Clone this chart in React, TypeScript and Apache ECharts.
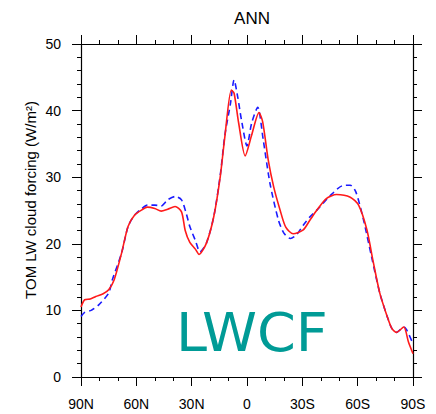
import React, { useEffect, useRef } from "react";
import * as echarts from "echarts";

// Latitudes in degrees (positive = N, negative = S)
const modelLat = [90, 88, 85, 82, 78, 75, 72, 68, 64.5, 61, 57, 54, 50, 46.5, 43, 39, 35.5, 33.5, 31, 28, 26, 22, 18, 14.5, 12, 8.5, 7, 4.5, 1, -2.5, -6.5, -8.5, -11.5, -14.5, -18, -21, -25, -30.5, -34, -38, -43, -48.5, -56, -60.5, -65, -68.5, -72, -76, -78.5, -81, -85, -87.5, -90];
const modelVal = [10.5, 11.6, 11.7, 12.1, 12.5, 13.1, 14.6, 18.6, 22.6, 24.3, 25.1, 25.5, 25.3, 24.9, 25.2, 25.6, 24.8, 22.0, 20.2, 19.2, 18.4, 20.1, 24.1, 30.1, 36.1, 43.1, 42.6, 38.1, 33.2, 36.3, 39.7, 38.3, 32.6, 28.5, 25.0, 22.5, 21.5, 22.1, 23.5, 25.1, 26.8, 27.4, 27.0, 25.8, 22.1, 17.2, 12.6, 9.1, 7.3, 6.7, 7.5, 5.3, 3.5];

const obsLat = [90, 88, 84.5, 80.5, 75, 73, 68, 64.5, 61, 57, 54, 50, 46.5, 43, 39, 35.5, 33, 31, 28, 25.5, 22, 18, 14.5, 12, 9, 7, 5, 3, 0, -2.5, -5.8, -8.8, -12.5, -17, -20, -23.5, -27, -30.5, -34, -38, -45, -51.5, -56, -59, -63, -67.5, -72, -76, -78.5, -81, -85, -86.5, -90];
const obsVal = [9.1, 9.7, 10.0, 10.8, 12.6, 14.6, 18.6, 22.6, 24.3, 25.3, 25.8, 25.8, 25.7, 26.6, 27.1, 26.6, 24.6, 22.6, 20.5, 18.8, 20.1, 24.1, 30.3, 36.3, 41.0, 44.6, 42.0, 38.6, 34.7, 38.1, 40.5, 35.6, 29.0, 23.6, 21.6, 20.8, 21.4, 22.8, 24.0, 25.1, 27.2, 28.7, 28.8, 27.8, 23.8, 18.1, 12.6, 9.1, 7.3, 6.7, 7.5, 7.1, 5.0];

const xTicks = [90, 60, 30, 0, -30, -60, -90];
const yTicks = [0, 10, 20, 30, 40, 50];

const titleText = "ANN";
const yName = "TOM LW cloud forcing (W/m²)";
const stampText = "LWCF";

function latLabel(v: number): string {
  if (v === 0) return "0";
  return v > 0 ? `${v}N` : `${-v}S`;
}

export default function App() {
  const ref = useRef<HTMLDivElement>(null);
  useEffect(() => {
    if (!ref.current) return;
    const chart = echarts.init(ref.current, null, { renderer: "svg" });
    const font = "Liberation Sans, Arial, sans-serif";
    const axisLine = { show: true, onZero: false, lineStyle: { color: "#000", width: 1.2 } };
    const tick = { show: true, inside: false, length: 9, lineStyle: { color: "#000", width: 1 } };
    const xBase = {
      type: "value" as const,
      min: -90,
      max: 90,
      interval: 30,
      inverse: true,
      axisLine,
      axisTick: tick,
      minorTick: { show: true, splitNumber: 3, length: 4, lineStyle: { color: "#000", width: 1 } },
      splitLine: { show: false },
    };
    const yBase = {
      type: "value" as const,
      min: 0,
      max: 50,
      interval: 10,
      axisLine,
      axisTick: tick,
      minorTick: { show: true, splitNumber: 5, length: 4, lineStyle: { color: "#000", width: 1 } },
      splitLine: { show: false },
    };
    chart.setOption({
      animation: false,
      title: {
        text: titleText,
        left: 247,
        top: 5,
        textAlign: "center",
        textStyle: { fontFamily: font, fontSize: 17, fontWeight: "normal", color: "#000" },
      },
      grid: { left: 81, right: 23, top: 44, bottom: 37, containLabel: false },
      xAxis: [
        {
          ...xBase,
          position: "bottom",
          axisLabel: {
            fontFamily: font,
            fontSize: 14,
            color: "#000",
            margin: 20,
            formatter: (v: number) => (xTicks.includes(v) ? latLabel(v) : ""),
          },
        },
        { ...xBase, position: "top", axisLabel: { show: false } },
      ],
      yAxis: [
        {
          ...yBase,
          position: "left",
          axisLabel: {
            fontFamily: font,
            fontSize: 14,
            color: "#000",
            margin: 20,
            formatter: (v: number) => (yTicks.includes(v) ? String(v) : ""),
          },
        },
        { ...yBase, position: "right", axisLabel: { show: false } },
      ],
      graphic: [
        {
          type: "text",
          x: 30.5,
          y: 200,
          rotation: Math.PI / 2,
          style: {
            text: yName,
            fontFamily: font,
            fontSize: 15,
            fill: "#000",
            align: "center",
            verticalAlign: "middle",
          },
        },
        {
          type: "text",
          left: 176,
          top: 306,
          scaleX: 1.05,
          style: {
            text: stampText,
            fontFamily: "DejaVu Sans, sans-serif",
            fontSize: 53,
            fill: "#009b96",
          },
        },
      ],
      series: [
        {
          type: "line",
          data: obsLat.map((la, i) => [la, obsVal[i]]),
          showSymbol: false,
          smooth: 0.25,
          lineStyle: { color: "#1a1aff", width: 1.6, type: [6, 4] },
          z: 2,
        },
        {
          type: "line",
          data: modelLat.map((la, i) => [la, modelVal[i]]),
          showSymbol: false,
          smooth: 0.25,
          lineStyle: { color: "#ff1a1a", width: 1.6 },
          z: 3,
        },
      ],
    });
    return () => chart.dispose();
  }, []);
  return (
    <div
      ref={ref}
      style={{ position: "fixed", left: 0, top: 0, width: 436, height: 414, background: "#fff" }}
    />
  );
}
